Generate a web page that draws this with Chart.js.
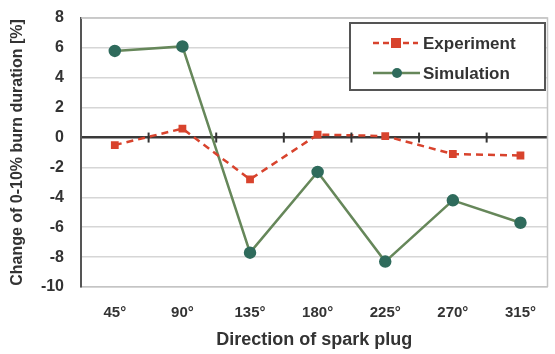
<!DOCTYPE html>
<html>
<head>
<meta charset="utf-8">
<script src="https://cdn.jsdelivr.net/npm/chart.js@4"></script>
<style>
  html, body { margin: 0; padding: 0; background: #fff; }
  #wrap { width: 555px; height: 354px; }
</style>
</head>
<body>
<div id="wrap"><canvas id="mycanvas"></canvas></div>
<script>
var directions = ['45°', '90°', '135°', '180°', '225°', '270°', '315°'];
var experiment = [-0.5, 0.6, -2.8, 0.2, 0.1, -1.1, -1.2];
var simulation = [5.8, 6.1, -7.7, -2.3, -8.3, -4.2, -5.7];
var yTicks = [-10, -8, -6, -4, -2, 0, 2, 4, 6, 8];

var FONT = 'Liberation Sans, Arial, sans-serif';
var expColor = '#d8432d';
var simLine = '#66875a';
var simMarker = '#2f6b5c';

function toPoints(arr) {
	return arr.map(function (v, i) { return { x: i + 1, y: v }; });
}

// frame, zero-line tick marks and boxed legend
var extras = {
	id: 'extras',
	afterDatasetsDraw: function (chart) {
		var ctx = chart.ctx;
		var a = chart.chartArea;
		var x = chart.scales.x, y = chart.scales.y;
		ctx.save();
		// light frame top/right
		ctx.strokeStyle = '#c4c4c4';
		ctx.lineWidth = 1.5;
		ctx.beginPath();
		ctx.moveTo(a.left, a.top); ctx.lineTo(a.right, a.top); ctx.lineTo(a.right, a.bottom);
		ctx.stroke();
		// tick marks on zero line between categories
		var y0 = y.getPixelForValue(0);
		ctx.strokeStyle = '#333';
		ctx.lineWidth = 2;
		for (var i = 1; i < directions.length; i++) {
			var px = x.getPixelForValue(i + 0.5);
			ctx.beginPath();
			ctx.moveTo(px, y0 - 5); ctx.lineTo(px, y0 + 5);
			ctx.stroke();
		}
		// legend box
		var bx = 350, by = 23, bw = 195, bh = 67;
		ctx.fillStyle = '#fff';
		ctx.fillRect(bx, by, bw, bh);
		ctx.strokeStyle = '#555';
		ctx.lineWidth = 2;
		ctx.strokeRect(bx, by, bw, bh);
		ctx.font = 'bold 17px ' + FONT;
		ctx.textBaseline = 'middle';
		// experiment
		ctx.strokeStyle = expColor;
		ctx.lineWidth = 2.5;
		ctx.setLineDash([6, 4]);
		ctx.beginPath(); ctx.moveTo(373, 43); ctx.lineTo(418, 43); ctx.stroke();
		ctx.setLineDash([]);
		ctx.fillStyle = expColor;
		ctx.fillRect(396 - 5, 43 - 5, 10, 10);
		ctx.fillStyle = '#333';
		ctx.fillText('Experiment', 423, 44);
		// simulation
		ctx.strokeStyle = simLine;
		ctx.beginPath(); ctx.moveTo(373, 73); ctx.lineTo(420, 73); ctx.stroke();
		ctx.fillStyle = simMarker;
		ctx.beginPath(); ctx.arc(397, 73, 5, 0, Math.PI * 2); ctx.fill();
		ctx.fillStyle = '#333';
		ctx.fillText('Simulation', 423, 74);
		ctx.restore();
	}
};

var chartdata = {
	datasets: [
		{
			label: 'Experiment',
			data: toPoints(experiment),
			borderColor: expColor,
			backgroundColor: expColor,
			borderWidth: 2.5,
			borderDash: [7, 5],
			pointStyle: 'rect',
			pointRadius: 5.5,
			pointBorderWidth: 0,
			order: 1
		},
		{
			label: 'Simulation',
			data: toPoints(simulation),
			borderColor: simLine,
			backgroundColor: simMarker,
			pointBackgroundColor: simMarker,
			pointBorderColor: simMarker,
			borderWidth: 2.5,
			pointRadius: 5,
			order: 2
		}
	]
};

var ctx = document.getElementById('mycanvas');

var lineGraph = new Chart(ctx, {
	type: 'line',
	data: chartdata,
	plugins: [extras],
	options: {
		responsive: true,
		maintainAspectRatio: false,
		animation: false,
		layout: { padding: { top: 18, right: 7, left: 8, bottom: 2 } },
		plugins: { legend: { display: false }, tooltip: { enabled: false } },
		scales: {
			x: {
				type: 'linear',
				min: 0.5,
				max: 7.4,
				afterBuildTicks: function (axis) {
					axis.ticks = directions.map(function (d, i) { return { value: i + 1 }; });
				},
				afterFit: function (scale) { scale.height = 65; scale.paddingLeft = 0; scale.paddingRight = 0; },
				ticks: {
					callback: function (v) { return directions[v - 1]; },
					color: '#333',
					font: { family: FONT, size: 15, weight: 'bold' },
					padding: 17,
					maxRotation: 0
				},
				grid: { display: false, drawTicks: false },
				border: { color: '#c4c4c4', width: 1.5 },
				title: {
					display: true,
					text: 'Direction of spark plug',
					color: '#333',
					font: { family: FONT, size: 18, weight: 'bold' },
					padding: { top: 0, bottom: 1 }
				}
			},
			y: {
				min: -10,
				max: 8,
				afterBuildTicks: function (axis) {
					axis.ticks = yTicks.map(function (v) { return { value: v }; });
				},
				afterFit: function (scale) { scale.width = 73; scale.paddingTop = 0; scale.paddingBottom = 0; },
				ticks: {
					color: '#333',
					font: { family: FONT, size: 16, weight: 'bold' },
					padding: 17
				},
				grid: {
					drawTicks: false,
					color: function (c) { return c.tick.value === 0 ? '#3a3a3a' : '#d6d6d6'; },
					lineWidth: function (c) { return c.tick.value === 0 ? 2.5 : 1.5; }
				},
				border: { color: '#555', width: 2 },
				title: {
					display: true,
					text: 'Change of 0-10% burn duration [%]',
					color: '#333',
					font: { family: FONT, size: 16, weight: 'bold' },
					padding: { top: 0, bottom: 2 }
				}
			}
		}
	}
});
</script>
</body>
</html>
